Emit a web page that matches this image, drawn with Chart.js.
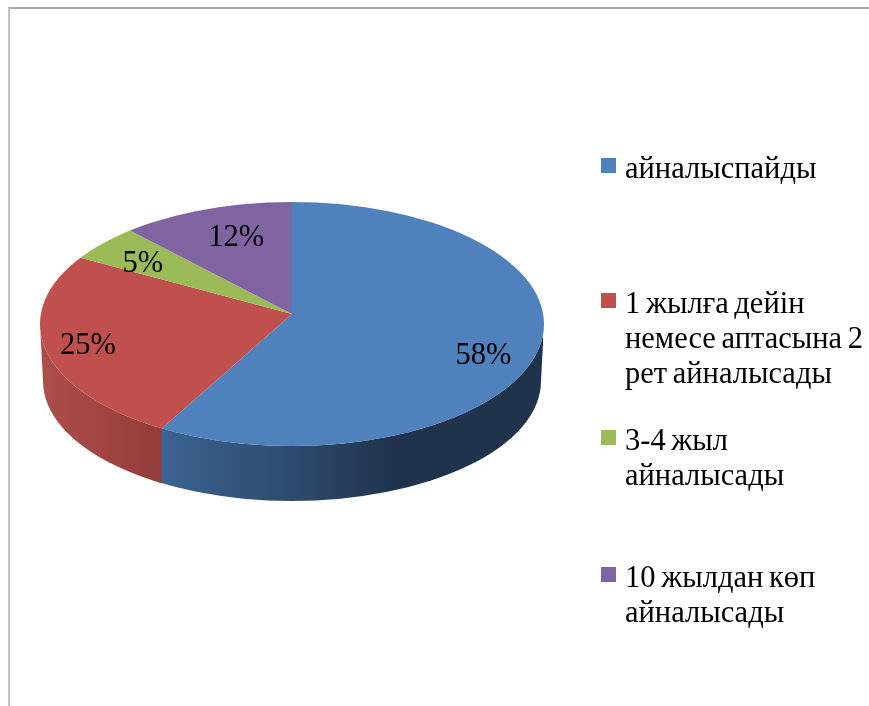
<!DOCTYPE html>
<html>
<head>
<meta charset="utf-8">
<script src="https://cdn.jsdelivr.net/npm/chart.js@4"></script>
<style>
  html, body { margin: 0; background: #fff; }
  .frame { position: absolute; left: 8px; top: 7px; right: 0; bottom: 0; border-top: 2px solid #ababab; border-left: 2px solid #c4c4c4; }
  canvas { position: absolute; left: 0; top: 0; filter: blur(0.4px); }
</style>
</head>
<body>
<div class="frame"></div>
<canvas id="chart" width="869" height="706"></canvas>
<script>
const categories = [
  ["айналыспайды"],
  ["1 жылға дейін", "немесе аптасына 2", "рет айналысады"],
  ["3-4 жыл", "айналысады"],
  ["10 жылдан көп", "айналысады"]
];
const shares = [58, 25, 5, 12];
const colors = ["#4f81bd", "#c0504d", "#9bbb59", "#8064a2"];

// looks: tilt of the pie, rim outline and legend layout
const tilt = 0.484;
const face = { cx: 292, cy: 324, rx: 252, ry: 122 };
const rim = { cx: 292, cy: 381, rx: 249, ry: 120 };
const sideStops = [
  [[0, "#ad4e4b"], [1, "#933c39"]],
  [[0, "#3b6391"], [0.4, "#2b4666"], [0.6, "#1f344c"], [1, "#1f344c"]]
];
const labelNudge = [[21, 21], [-35, 8], [-10, 2], [9, 3]];
const legendTop = [168, 303, 440, 577];
const font = '30.5px "Liberation Serif", "Times New Roman", serif';

// where a slice edge leaves the tilted outline, the hub sits above the ellipse centre
function seamX(hub, theta) {
  const dx = Math.sin(theta), dy = -tilt * Math.cos(theta);
  const off = hub.y - face.cy;
  const a = dx * dx / (face.rx * face.rx) + dy * dy / (face.ry * face.ry);
  const b = 2 * dy * off / (face.ry * face.ry);
  const c = off * off / (face.ry * face.ry) - 1;
  const t = (-b + Math.sqrt(b * b - 4 * a * c)) / (2 * a);
  return hub.x + t * dx;
}

function sidePath(ctx) {
  ctx.beginPath();
  ctx.ellipse(rim.cx, rim.cy, rim.rx, rim.ry, 0, Math.PI, 0, true);
  ctx.lineTo(face.cx + face.rx, face.cy);
  ctx.ellipse(face.cx, face.cy, face.rx, face.ry, 0, 0, Math.PI, false);
  ctx.closePath();
}

const pie3d = {
  id: "pie3d",
  beforeDatasetsDraw(chart) {
    const ctx = chart.ctx;
    const arcs = chart.getDatasetMeta(0).data;
    const hub = { x: arcs[0].x, y: arcs[0].y };
    arcs.forEach(arc => {
      // only the part of a slice facing the viewer gets a side
      const from = Math.max(arc.startAngle + Math.PI / 2, Math.PI / 2);
      const to = Math.min(arc.endAngle + Math.PI / 2, Math.PI * 1.5);
      if (from >= to) return;
      const a = seamX(hub, from), b = seamX(hub, to);
      const left = Math.min(a, b), right = Math.max(a, b);
      const grad = ctx.createLinearGradient(left, 0, right, 0);
      sideStops[from === Math.PI / 2 ? 1 : 0].forEach(s => grad.addColorStop(s[0], s[1]));
      ctx.save();
      ctx.beginPath();
      ctx.rect(left - 4, 0, right - left + 4, chart.height);
      ctx.clip();
      sidePath(ctx);
      ctx.fillStyle = grad;
      ctx.fill();
      ctx.restore();
    });
    ctx.save();
    ctx.beginPath();
    ctx.ellipse(face.cx, face.cy, face.rx, face.ry, 0, 0, Math.PI * 2);
    ctx.clip();
    ctx.translate(hub.x, hub.y);
    ctx.scale(1, tilt);
    ctx.translate(-hub.x, -hub.y);
  },
  afterDatasetsDraw(chart) {
    const ctx = chart.ctx;
    ctx.restore();
    ctx.font = font;
    ctx.fillStyle = "#000";
    ctx.textAlign = "center";
    ctx.textBaseline = "middle";
    chart.getDatasetMeta(0).data.forEach((arc, i) => {
      const mid = (arc.startAngle + arc.endAngle) / 2 + Math.PI / 2;
      const x = arc.x + 176 * Math.sin(mid) + labelNudge[i][0];
      const y = arc.y - tilt * 176 * Math.cos(mid) + labelNudge[i][1];
      ctx.fillText(shares[i] + "%", x, y);
    });
    ctx.textAlign = "left";
    ctx.wordSpacing = "-2px";
    categories.forEach((lines, i) => {
      ctx.fillStyle = colors[i];
      ctx.fillRect(601, legendTop[i] - 10, 15, 15);
      ctx.fillStyle = "#000";
      lines.forEach((line, j) => ctx.fillText(line, 625, legendTop[i] + 2 + j * 35));
    });
    ctx.wordSpacing = "0px";
  }
};

new Chart(document.getElementById("chart"), {
  type: "pie",
  data: {
    labels: categories,
    datasets: [{ data: shares, backgroundColor: colors, borderWidth: 0 }]
  },
  options: {
    responsive: false,
    animation: false,
    layout: { padding: { right: 285, bottom: 78 } },
    plugins: { legend: { display: false }, tooltip: { enabled: false } }
  },
  plugins: [pie3d]
});
</script>
</body>
</html>
